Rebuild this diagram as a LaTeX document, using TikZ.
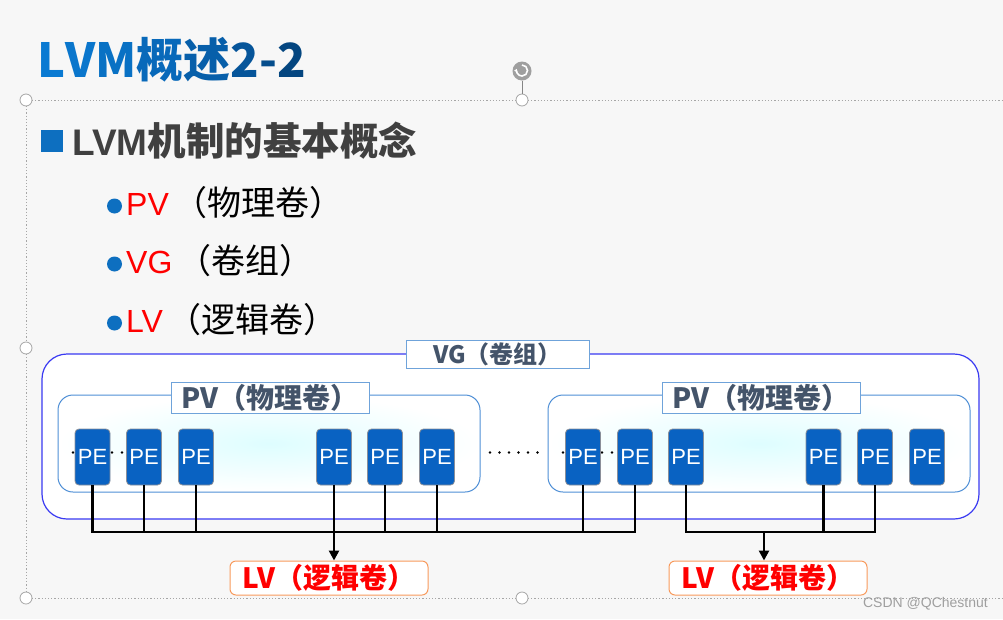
\documentclass[tikz,border=0pt]{standalone}
\usepackage{fontspec}
\setmainfont{Liberation Sans}
\newfontfamily\cjk{Noto Sans CJK SC}
\usetikzlibrary{arrows.meta}
\definecolor{bgc}{HTML}{F7F7F7}
\definecolor{vgblue}{HTML}{3A3AF2}
\definecolor{pvline}{HTML}{4F8FD6}
\definecolor{lblline}{HTML}{6FA3DA}
\definecolor{pefill}{HTML}{0962C2}
\definecolor{peline}{HTML}{8A8F99}
\definecolor{lbltext}{HTML}{44546A}
\definecolor{lvline}{HTML}{F89A5C}
\definecolor{bblue}{HTML}{0D6FC0}
\definecolor{htext}{HTML}{404040}
\definecolor{hndl}{HTML}{A6A6A6}
\definecolor{tA}{HTML}{0A7AD2}
\definecolor{tB}{HTML}{0A76CC}
\definecolor{tC}{HTML}{0971C4}
\definecolor{tD}{HTML}{0869BA}
\definecolor{tE}{HTML}{075FAA}
\definecolor{tF}{HTML}{06559A}
\definecolor{tG}{HTML}{054D8C}
\definecolor{tH}{HTML}{044680}
\newcommand\fs[1]{\fontsize{#1}{#1}\selectfont}
\tikzset{
  pe/.style={rectangle, rounded corners=4pt, fill=pefill, draw=peline, line width=0.8pt,
    minimum width=35pt, minimum height=56pt, inner sep=0pt, text=white, font=\fs{22}},
  pvbox/.style={rectangle, rounded corners=15pt, draw=pvline, line width=1pt,
    inner color=blue!5!cyan!13!white, outer color=white},
  lbl/.style={rectangle, draw=lblline, line width=0.8pt, fill=white, inner sep=0pt,
    text=lbltext, font=\bfseries\cjk\fs{28}},
  lvbox/.style={rectangle, rounded corners=6pt, draw=lvline, line width=1pt, fill=white,
    inner sep=0pt, minimum width=198pt, minimum height=34pt, text=red, font=\bfseries\cjk\fs{28}},
  bus/.style={line width=2.5pt, black},
  handle/.style={circle, draw=hndl, fill=white, line width=0.8pt, minimum size=12pt, inner sep=0pt},
  selline/.style={draw=hndl, line width=0.7pt, dash pattern=on 1.2pt off 2pt}
}
\begin{document}
\begin{tikzpicture}[x=1pt,y=-1pt]
\useasboundingbox (0,0) rectangle (1003,619);
\fill[bgc] (0,0) rectangle (1003,619);

% selection frame
\draw[selline] (32,100) -- (516,100);
\draw[selline] (528,100) -- (1003,100);
\draw[selline] (32,598) -- (516,598);
\draw[selline] (528,598) -- (1003,598);
\draw[selline] (26,106) -- (26,342);
\draw[selline] (26,354) -- (26,592);
\node[handle] (h1) at (26,100) {};
\node[handle] (h2) at (522,100) {};
\node[handle] (h3) at (26,348) {};
\node[handle] (h4) at (26,598) {};
\node[handle] (h5) at (522,598) {};
\node[circle, fill=gray!75, minimum size=19pt, inner sep=0pt] (rot) at (522,71) {};
\draw[hndl!80!black, line width=0.8pt] (rot.south) -- (h2.north);
\draw[white, line width=1.6pt, -{Latex[length=3pt,width=4pt]}] (522,65) arc[start angle=90, end angle=-200, radius=5.5pt];

% title
\node[anchor=base west, inner sep=0pt, font=\bfseries\cjk\fs{47}] (title) at (37,77)
  {\textcolor{tA}{L}\textcolor{tB}{V}\textcolor{tC}{M}\textcolor{tD}{概}\textcolor{tE}{述}\textcolor{tF}{2}\textcolor{tG}{-}\textcolor{tH}{2}};

% heading
\fill[bblue] (41,130) rectangle (63,152);
\node[anchor=base west, inner sep=0pt, text=htext, font=\bfseries\fs{37}] (head) at (72,155)
  {LVM{\cjk\fs{38.5}机制的基本概念}};

% bullets
\fill[bblue] (114.5,206) circle (7.5pt);
\fill[bblue] (114.5,264) circle (7.5pt);
\fill[bblue] (114.5,323) circle (7.5pt);
\node[anchor=base west, inner sep=0pt, font=\fs{32}] (b1) at (126,215)
  {\textcolor{red}{PV}\hspace{5pt}{\cjk\fs{34}（物理卷）}};
\node[anchor=base west, inner sep=0pt, font=\fs{32}] (b2) at (126,273)
  {\textcolor{red}{VG}\hspace{5pt}{\cjk\fs{34}（卷组）}};
\node[anchor=base west, inner sep=0pt, font=\fs{32}] (b3) at (126,332)
  {\textcolor{red}{LV}\hspace{5pt}{\cjk\fs{34}（逻辑卷）}};

% VG box
\draw[vgblue, line width=1.2pt, fill=white, rounded corners=25pt] (42,354) rectangle (979,519);
\node[lbl, minimum width=183pt, minimum height=28pt, font=\bfseries\cjk\fs{24}] (vg) at (497.5,354) {VG（卷组）};

% PV boxes
\path[pvbox] (58,395) rectangle (480,492);
\path[pvbox] (548,395) rectangle (970,492);
\node[lbl, minimum width=198pt, minimum height=31pt] (pvl) at (270,397.5) {PV（物理卷）};
\node[lbl, minimum width=198pt, minimum height=31pt] (pvr) at (761,397.5) {PV（物理卷）};

% dots
\foreach \x in {73,112,122,490,499.5,509,518.5,528,537.5,563,602,612}
  \fill (\x,452.5) circle (1.3pt);

% PEs
\foreach \n/\x in {p1/92.5,p2/144,p3/196,p4/334,p5/385,p6/437,q1/583,q2/635,q3/686,q4/823.5,q5/875,q6/927}
  \node[pe] (\n) at (\x,457) {PE};

% bus lines
\coordinate (busy) at (0,532);
\foreach \n in {p1,p2,p3,p4,p5,p6,q1,q2,q3,q4,q5}
  \draw[bus] (\n.south) -- (\n.south |- busy);
\draw[bus, line cap=rect] (p1.south |- busy) -- (q2.south |- busy);
\draw[bus, line cap=rect] (q3.south |- busy) -- (q5.south |- busy);

% LV boxes
\node[lvbox] (lv1) at (329,578) {LV（逻辑卷）};
\node[lvbox] (lv2) at (768,578) {LV（逻辑卷）};
\coordinate (a2) at (764,532);
\draw[bus, -{Triangle[length=10pt,width=10pt]}] (p4.south |- busy) -- (p4.south |- lv1.north);
\draw[bus, -{Triangle[length=10pt,width=10pt]}] (a2) -- (a2 |- lv2.north);

% watermark
\node[anchor=base east, inner sep=0pt, text=gray!75, font=\fs{14}] (wm) at (988,607) {CSDN @QChestnut};
\end{tikzpicture}
\end{document}
